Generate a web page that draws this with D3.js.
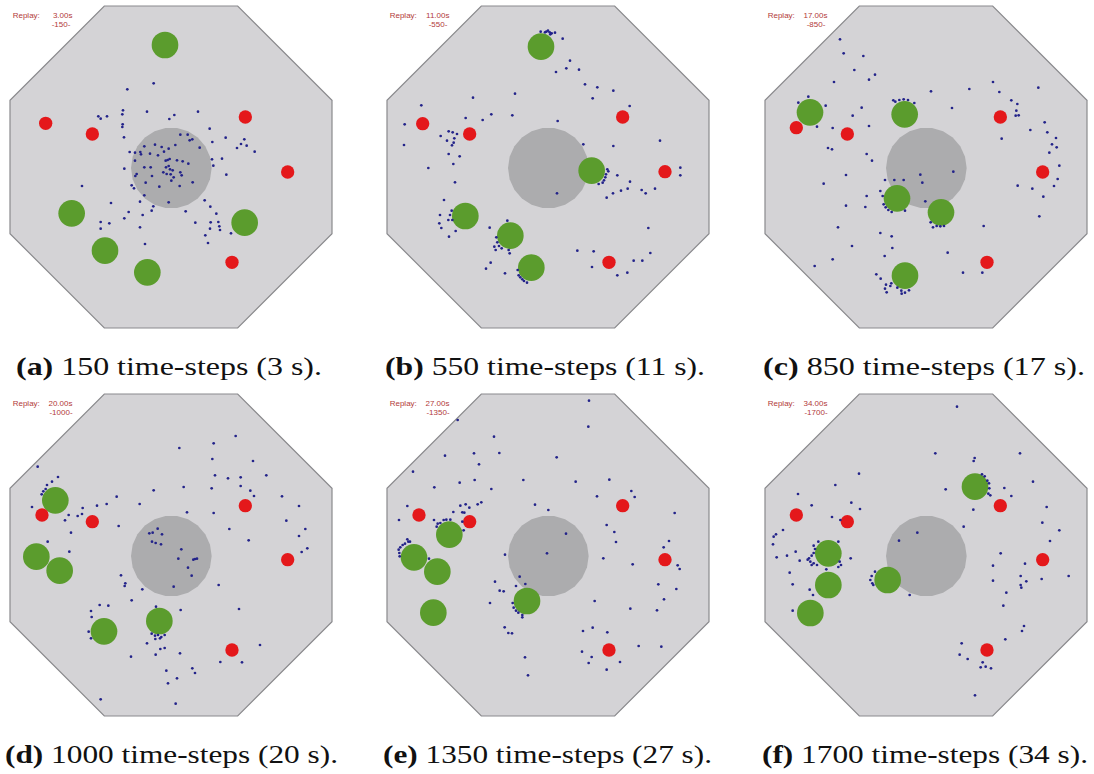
<!DOCTYPE html>
<html><head><meta charset="utf-8">
<script src="https://cdn.jsdelivr.net/npm/d3@7"></script>
<style>html,body{margin:0;padding:0;background:#fff;}svg{display:block;}</style>
</head><body>
<svg id="chart" width="1094" height="774"></svg>
<script>
// ---- Data (arena coordinates in 1/3-pixel units, per panel) ----
const panelIds = ["a","b","c","d","e","f"];
const stepCounts = [150, 550, 850, 1000, 1350, 1700];
const seconds = [3, 11, 17, 20, 27, 34];
const replayTimes = ["3.00s","11.00s","17.00s","20.00s","27.00s","34.00s"];
const frameLabels = ["-150-","-550-","-850-","-1000-","-1350-","-1700-"];

const goalsA = [[495,135],[215,640],[315,752],[442,817],[734,668]];
const goalsB = [[498,140],[650,512],[271,648],[406,707],[469,803]];
const goalsC = [[165,337],[449,343],[426,595],[558,637],[450,827]];
const goalsD = [[166,346],[109,515],[179,557],[312,739],[478,708]];
const goalsE = [[223,449],[117,517],[187,560],[175,683],[456,648]];
const goalsF = [[660,305],[220,505],[220,600],[166,684],[398,585]];

const hazardsA = [[137,370],[277,402],[736,351],[863,516],[696,787]];
const hazardsB = [[143,371],[284,402],[743,351],[870,515],[702,787]];
const hazardsC = [[124,383],[277,402],[736,351],[863,516],[696,787]];
const hazardsD = [[126,390],[277,410],[736,362],[863,524],[696,795]];
const hazardsE = [[132,390],[284,410],[743,362],[870,524],[702,795]];
const hazardsF = [[124,390],[277,410],[736,362],[863,524],[696,795]];

const agentsA = [[461,250],[382,268],[441,335],[369,331],[367,343],[295,349],[302,356],[321,349],[368,373],[367,381],[372,412],[523,345],[508,357],[594,335],[629,386],[541,404],[563,404],[569,421],[577,418],[637,426],[677,413],[733,418],[723,432],[740,437],[711,444],[764,455],[433,439],[465,434],[485,441],[506,446],[526,435],[599,443],[389,456],[405,458],[421,456],[423,463],[450,461],[474,466],[492,455],[497,482],[503,480],[509,477],[531,481],[548,484],[565,491],[405,482],[636,478],[666,476],[640,497],[373,506],[433,502],[452,502],[498,502],[510,508],[506,498],[518,511],[490,517],[500,522],[512,523],[541,517],[545,526],[521,532],[514,542],[410,522],[406,528],[456,528],[437,548],[478,560],[539,558],[578,547],[395,556],[402,565],[246,558],[679,524],[433,586],[420,605],[506,607],[460,619],[455,632],[333,609],[386,636],[373,655],[428,645],[302,666],[328,670],[302,686],[420,682],[435,732],[557,634],[614,601],[631,620],[649,641],[586,668],[632,667],[655,666],[658,679],[660,690],[630,686],[616,706],[624,729],[693,700]];
const agentsB = [[497,95],[510,97],[519,92],[524,97],[530,100],[540,98],[526,103],[514,95],[563,116],[585,182],[574,205],[543,216],[612,209],[630,253],[667,262],[715,272],[653,295],[764,318],[420,281],[294,293],[139,316],[89,373],[87,435],[272,354],[323,360],[349,343],[412,346],[548,363],[221,394],[233,397],[246,402],[197,408],[238,415],[216,422],[236,428],[231,436],[221,462],[254,469],[235,492],[160,504],[240,547],[625,433],[715,438],[855,422],[916,503],[916,526],[697,508],[700,514],[693,523],[691,532],[687,541],[683,548],[671,552],[727,526],[765,545],[758,566],[738,572],[714,580],[695,593],[800,570],[812,580],[840,566],[546,580],[207,600],[230,632],[225,645],[220,660],[195,645],[193,670],[199,684],[242,693],[222,710],[232,660],[397,662],[344,683],[364,712],[367,727],[372,738],[358,740],[362,750],[380,745],[401,750],[404,760],[347,788],[333,806],[390,820],[428,810],[431,826],[436,832],[442,838],[447,843],[456,848],[820,684],[607,752],[656,754],[651,801],[776,782],[802,782],[826,759],[727,826],[757,818]];
const agentsC = [[255,118],[266,160],[325,168],[298,210],[360,224],[342,239],[237,246],[160,290],[130,308],[212,317],[186,380],[233,384],[293,347],[320,323],[342,378],[219,444],[231,448],[335,462],[351,482],[415,301],[421,305],[433,300],[446,298],[459,300],[478,309],[528,274],[643,267],[714,246],[733,276],[850,263],[769,301],[787,312],[784,332],[782,347],[791,346],[591,324],[740,416],[826,390],[869,367],[877,397],[903,414],[891,433],[905,442],[883,458],[913,497],[908,537],[897,558],[865,590],[832,566],[788,557],[853,649],[273,525],[206,551],[496,524],[502,548],[595,515],[390,540],[418,540],[446,540],[376,573],[383,588],[335,588],[386,613],[392,622],[400,630],[410,636],[450,632],[273,617],[331,621],[511,604],[527,667],[534,682],[545,678],[556,679],[567,678],[249,682],[376,699],[410,709],[291,738],[412,744],[389,768],[233,778],[179,798],[578,758],[686,678],[624,818],[682,818],[364,823],[377,836],[393,854],[406,858],[390,866],[395,877],[409,850],[427,863],[439,872],[440,881],[450,878],[462,871]];
const agentsD = [[113,245],[538,189],[641,175],[707,153],[637,222],[759,228],[645,271],[684,280],[722,277],[799,271],[635,310],[722,303],[751,317],[762,333],[846,334],[897,363],[859,407],[916,432],[897,453],[922,490],[905,501],[174,276],[156,290],[141,300],[137,312],[130,319],[125,328],[96,366],[206,390],[195,406],[233,393],[248,369],[246,387],[291,362],[320,357],[350,335],[419,357],[461,316],[551,306],[356,423],[213,443],[143,470],[208,500],[641,384],[561,382],[688,432],[746,466],[448,445],[458,443],[473,431],[486,448],[456,470],[467,474],[483,478],[544,493],[535,521],[580,524],[585,522],[591,521],[564,548],[575,572],[521,605],[427,613],[363,571],[376,595],[374,603],[395,646],[656,600],[717,672],[780,780],[661,831],[726,832],[299,660],[325,662],[273,678],[275,696],[266,740],[273,760],[468,665],[542,675],[455,746],[465,752],[474,750],[484,756],[494,750],[466,762],[480,760],[441,775],[481,792],[494,789],[467,809],[540,805],[393,815],[499,857],[577,850],[585,864],[531,880],[504,895],[302,943],[527,956]];
const agentsE = [[642,47],[640,125],[248,105],[357,155],[210,212],[297,205],[373,204],[312,238],[545,217],[114,260],[178,307],[254,293],[299,285],[349,312],[445,285],[602,290],[703,284],[666,334],[769,318],[779,336],[97,363],[72,405],[235,381],[256,362],[272,358],[283,368],[308,358],[319,352],[262,382],[268,383],[177,405],[196,414],[185,425],[188,416],[206,405],[214,404],[226,404],[262,410],[266,436],[480,359],[520,375],[573,446],[516,505],[390,509],[695,420],[718,441],[723,471],[685,520],[773,538],[899,384],[882,468],[866,487],[908,541],[914,552],[850,598],[904,612],[867,643],[846,676],[766,671],[659,648],[97,463],[100,470],[90,476],[83,480],[76,487],[71,494],[73,504],[74,514],[105,470],[162,521],[434,575],[451,597],[423,603],[360,590],[374,617],[386,619],[345,654],[413,654],[416,668],[423,677],[430,683],[442,690],[442,697],[389,727],[400,744],[411,745],[624,738],[653,728],[697,742],[621,800],[650,816],[641,834],[695,854],[735,831],[791,783],[859,785],[450,817],[459,871]];
const agentsF = [[606,65],[541,205],[795,205],[659,219],[656,228],[312,266],[241,300],[129,327],[572,313],[834,290],[681,268],[689,274],[697,287],[702,295],[703,310],[700,326],[706,331],[748,309],[769,333],[655,374],[170,361],[289,353],[315,372],[231,396],[256,405],[875,366],[862,413],[913,436],[885,468],[84,435],[63,448],[56,455],[54,478],[65,517],[96,512],[122,500],[134,527],[104,563],[113,598],[164,614],[174,630],[113,677],[190,470],[176,482],[180,492],[176,504],[170,512],[162,520],[158,524],[166,530],[176,535],[186,540],[170,540],[250,470],[254,530],[258,540],[250,546],[214,553],[287,520],[626,425],[487,443],[432,467],[360,560],[350,573],[346,585],[352,595],[355,600],[464,630],[737,505],[714,542],[810,536],[714,587],[797,573],[814,589],[797,600],[799,608],[860,582],[941,573],[754,623],[745,662],[807,723],[801,738],[751,763],[620,775],[614,809],[638,822],[683,832],[677,847],[692,845],[708,850],[660,931]];

const goals = [goalsA, goalsB, goalsC, goalsD, goalsE, goalsF];
const hazards = [hazardsA, hazardsB, hazardsC, hazardsD, hazardsE, hazardsF];
const agents = [agentsA, agentsB, agentsC, agentsD, agentsE, agentsF];

// ---- Layout ----
const panelOrigins = [[0,0],[375,0],[755,0],[0,385],[375,385],[755,385]];
const arenaBoxes = [[30,18],[36,18],[30,18],[30,27],[36,27],[30,27]]; // left, top in arena units
const arenaSize = 966, localExtent = 990, pxExtent = 330;
const captionCenters = [169, 545, 924, 171.5, 547.5, 925];
const captionWidths = [306, 320, 322, 333, 329, 326];

const svg = d3.select("#chart");

panelIds.forEach((id, i) => {
  const [ox, oy] = panelOrigins[i];
  const x = d3.scaleLinear().domain([0, localExtent]).range([ox, ox + pxExtent]);
  const y = d3.scaleLinear().domain([0, localExtent]).range([oy, oy + pxExtent]);
  const r = d3.scaleLinear().domain([0, localExtent]).range([0, pxExtent]);
  const [L, T] = arenaBoxes[i];
  const S = arenaSize, k = S / (2 + Math.SQRT2);
  const oct = [[L+k,T],[L+S-k,T],[L+S,T+k],[L+S,T+S-k],[L+S-k,T+S],[L+k,T+S],[L,T+S-k],[L,T+k]];
  const g = svg.append("g").attr("class", "panel-" + id);

  g.append("path")
    .attr("d", d3.line().x(d => x(d[0])).y(d => y(d[1]))(oct) + "Z")
    .attr("fill", "#d4d3d6").attr("stroke", "#8a8a8d").attr("stroke-width", 1.2);

  // central obstacle (faceted circle)
  const cxL = L + S/2 + 1, cyL = T + S/2 + 3, R = 121, nSides = 22;
  const poly = d3.range(nSides).map(j => {
    const a = j / nSides * 2 * Math.PI;
    return [cxL + R * Math.cos(a), cyL + R * Math.sin(a)];
  });
  g.append("path")
    .attr("d", d3.line().x(d => x(d[0])).y(d => y(d[1]))(poly) + "Z")
    .attr("fill", "#acacae");

  g.selectAll("circle.goal").data(goals[i]).join("circle")
    .attr("class", "goal")
    .attr("cx", d => x(d[0])).attr("cy", d => y(d[1])).attr("r", r(40))
    .attr("fill", "#5b9c2d");

  g.selectAll("circle.hazard").data(hazards[i]).join("circle")
    .attr("class", "hazard")
    .attr("cx", d => x(d[0])).attr("cy", d => y(d[1])).attr("r", r(20))
    .attr("fill", "#e4181b");

  g.selectAll("circle.agent").data(agents[i]).join("circle")
    .attr("class", "agent")
    .attr("cx", d => x(d[0])).attr("cy", d => y(d[1])).attr("r", 1.35)
    .attr("fill", "#23238a");

  const pl = x(L), pt = y(T);
  const tg = g.append("g").attr("font-family", "Liberation Sans, Arial, sans-serif")
    .attr("font-size", 8).attr("fill", "#b23a3a");
  tg.append("text").attr("x", pl + 2.7).attr("y", pt + 11.5).text("Replay:");
  tg.append("text").attr("x", pl + 62.5).attr("y", pt + 11.5).attr("text-anchor", "end").text(replayTimes[i]);
  tg.append("text").attr("x", pl + 51).attr("y", pt + 20.5).attr("text-anchor", "middle").text(frameLabels[i]);

  // caption
  const cap = g.append("text")
    .attr("x", captionCenters[i] - captionWidths[i] / 2).attr("y", pt + 369)
    .attr("textLength", captionWidths[i]).attr("lengthAdjust", "spacingAndGlyphs")
    .attr("font-family", "Liberation Serif, Times New Roman, serif")
    .attr("font-size", 26).attr("fill", "#111");
  cap.append("tspan").attr("font-weight", "bold").text("(" + id + ")");
  cap.append("tspan").text(" " + stepCounts[i] + " time-steps (" + seconds[i] + " s).");
});
</script>
</body></html>
